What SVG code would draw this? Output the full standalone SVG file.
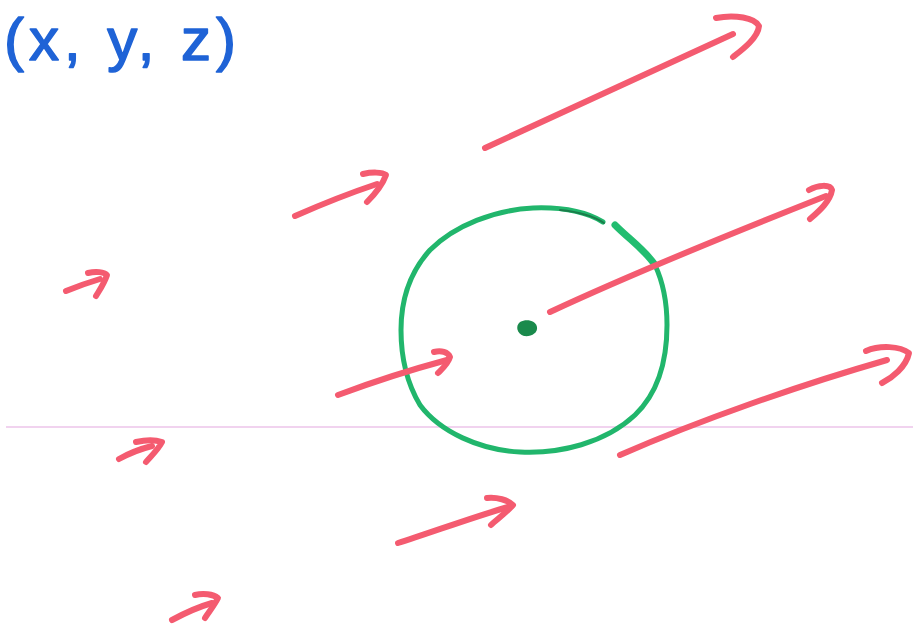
<svg xmlns="http://www.w3.org/2000/svg" width="913" height="628" viewBox="0 0 913 628">
<style>
.ray{fill:none;stroke:#f45b70;stroke-width:6;stroke-linecap:round;stroke-linejoin:round}
.circ{fill:none;stroke:#21b66c;stroke-width:5;stroke-linecap:round;stroke-linejoin:round}
.lbl{font-family:"Liberation Sans",Arial,sans-serif;font-size:60px;fill:#1f63d6;stroke:#1f63d6;stroke-width:1.5;stroke-linejoin:round}
</style>
<rect width="913" height="628" fill="#ffffff"/>
<line id="horizon" x1="6" y1="427" x2="913" y2="427" stroke="#f1d3ef" stroke-width="2"/>
<text id="label" class="lbl" x="4" y="60" textLength="232" lengthAdjust="spacing">(x, y, z)</text>
<g id="sphere">
  <path class="circ" d="M603,222 C585,211 560,207 533,208 C495,210 455,225 430,250 C410,272 401,300 401,330 C401,360 408,385 420,405 C440,432 480,450 520,452 C560,454 605,443 635,415 C658,393 667,360 667,325 C667,300 662,280 655,265"/>
  <path fill="none" stroke="#1a7d4a" stroke-width="2" stroke-linecap="round" d="M560,210 C580,212 595,217 604,223"/>
  <path fill="none" stroke="#22bd70" stroke-width="7" stroke-linecap="round" d="M615,225 C630,240 645,250 655,265"/>
  <path d="M520,322 C527,318 536,321 537,327 C538,333 531,337 524,336 C517,334 515,326 520,322 Z" fill="#1a8a4c"/>
</g>
<g id="rays">
  <g id="ray1"><path class="ray" d="M485,148 C560,113 660,68 733,34"/><path class="ray" d="M716,18 C735,14 755,18 759,26 C758,38 742,50 733,57"/></g>
  <g id="ray2"><path class="ray" d="M295,216 C320,205 350,193 377,184"/><path class="ray" d="M363,174 C372,172 382,172 386,175 C382,186 373,196 367,202"/></g>
  <g id="ray3"><path class="ray" d="M66,291 C78,286 90,282 100,279"/><path class="ray" d="M88,273 C96,271 104,272 107,275 C104,284 99,291 96,296"/></g>
  <g id="ray4"><path class="ray" d="M550,312 C640,270 740,230 826,196"/><path class="ray" d="M809,190 C818,185 830,184 832,190 C830,202 818,212 810,219"/></g>
  <g id="ray5"><path class="ray" d="M338,395 C370,383 410,370 447,360"/><path class="ray" d="M434,352 C441,350 448,352 450,357 C448,364 442,369 438,373"/></g>
  <g id="ray6"><path class="ray" d="M620,455 C700,420 800,385 887,360"/><path class="ray" d="M866,351 C880,345 900,346 909,353 C906,367 892,378 882,383"/></g>
  <g id="ray7"><path class="ray" d="M119,459 C128,454 140,449 152,446"/><path class="ray" d="M136,442 C145,440 156,440 162,442 C158,450 150,457 146,462"/></g>
  <g id="ray8"><path class="ray" d="M398,543 C430,533 470,518 508,507"/><path class="ray" d="M487,498 C497,497 508,500 513,505 C506,513 496,520 491,525"/></g>
  <g id="ray9"><path class="ray" d="M172,620 C185,613 198,607 212,603"/><path class="ray" d="M195,595 C203,593 213,594 218,598 C214,606 208,613 205,618"/></g>
</g>
</svg>
